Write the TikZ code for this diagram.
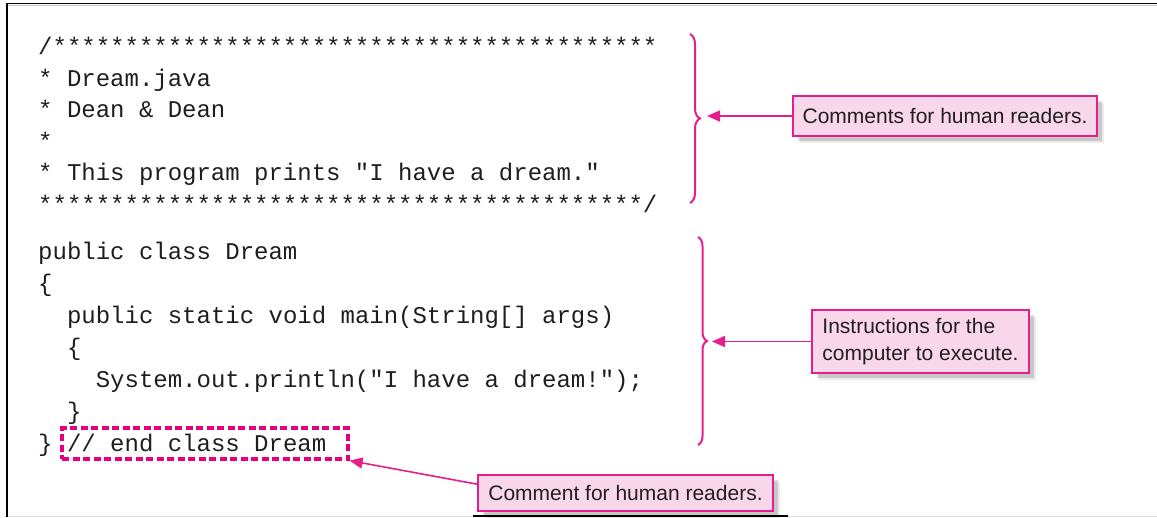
\documentclass[tikz,border=0pt]{standalone}
\usepackage{fontspec}
\setmainfont{Liberation Sans}
\newfontfamily\codefont{Liberation Mono}
\usetikzlibrary{arrows.meta,decorations.pathreplacing,shadows,calc}
\definecolor{mag}{HTML}{E61E8C}
\definecolor{magdash}{HTML}{E6007E}
\definecolor{pinkfill}{HTML}{F8D7EA}
\definecolor{codeink}{HTML}{1E1E1E}
\definecolor{noteink}{HTML}{231F20}
\tikzset{
  codeline/.style={anchor=base west, inner sep=0pt, text=codeink,
    font=\codefont\fontsize{24}{24}\selectfont},
  callout/.style={draw=mag, line width=1.6pt, fill=pinkfill, inner sep=0pt,
    text=noteink, font=\fontsize{21}{27}\selectfont,
    drop shadow={shadow xshift=7pt, shadow yshift=-7pt, fill=black, opacity=0.08},
    drop shadow={shadow xshift=5pt, shadow yshift=-5pt, fill=black, opacity=0.15}},
  bracestyle/.style={draw=mag, line width=2pt, decorate},
  pointer/.style={draw=mag, line width=1.6pt, -{Triangle[length=13pt,width=11pt]}},
  dashbox/.style={draw=magdash, line width=3.2pt, dash pattern=on 7pt off 3.5pt, inner sep=0pt},
  frameline/.style={draw=black, line width=1.6pt}
}
\begin{document}
\begin{tikzpicture}[x=1pt,y=-1pt]
\useasboundingbox (0,0) rectangle (1157,517);
% frame
\draw[gray!45, line width=1pt] (8,5.8) -- (1157,5.8);
\draw[frameline] (7,3.5) -- (1157,3.5);
\draw[frameline] (7,3) -- (7,517);
\draw[gray!25, line width=1pt] (8,516.5) -- (1157,516.5);
\draw[frameline] (473,516.2) -- (788,516.2);
% code
\node[codeline] (l1) at (38,54.5) {/******************************************};
\node[codeline] (l2) at (38,86) {* Dream.java};
\node[codeline] (l3) at (38,117.5) {* Dean \& Dean};
\node[codeline] (l4) at (38,149) {*};
\node[codeline] (l5) at (38,180.5) {* This program prints "I have a dream."};
\node[codeline] (l6) at (38,212) {******************************************/};
\node[codeline] (l7) at (38,259) {public class Dream};
\node[codeline] (l8) at (38,291) {\{};
\node[codeline] (l9) at (66.8,323) {public static void main(String[] args)};
\node[codeline] (l10) at (66.8,355) {\{};
\node[codeline] (l11) at (95.6,387) {System.out.println("I have a dream!");};
\node[codeline] (l12) at (66.8,419) {\}};
\node[codeline] (l13a) at (38,451) {\}};
\node[codeline] (l13b) at (66.8,451) {// end class Dream};
% dashed highlight
\node[dashbox, minimum width=286pt, minimum height=31pt] (dbox) at (205,443.5) {};
% braces
\draw[bracestyle, decoration={brace, amplitude=10pt, aspect=0.5}] (690,34) -- (690,203);
\draw[bracestyle, decoration={brace, amplitude=9pt, aspect=0.5}] (698,237) -- (698,445);
% callouts
\node[callout, minimum width=304pt, minimum height=40pt] (c1) at (945,116) {Comments for human readers.};
\node[callout, align=left, minimum width=217pt, minimum height=63pt] (c2) at (920.5,341.5) {Instructions for the\\computer to execute.};
\node[callout, minimum width=295pt, minimum height=36pt] (c3) at (625.5,493) {Comment for human readers.};
% pointers
\coordinate (t1) at (707,116);
\coordinate (t2) at (712,341.5);
\draw[pointer] (c1.west) -- (t1);
\draw[pointer] (c2.west) -- (t2);
\draw[pointer] ($(c3.north west)+(0,10)$) -- (dbox.south east);
\end{tikzpicture}
\end{document}
